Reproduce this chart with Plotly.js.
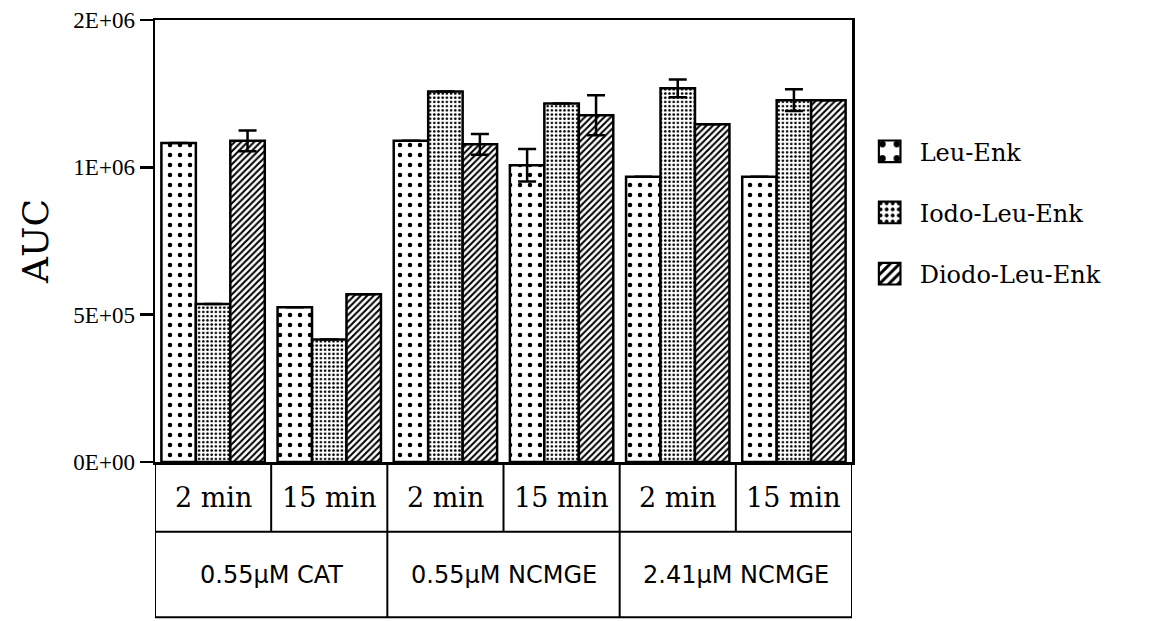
<!DOCTYPE html>
<html>
<head>
<meta charset="utf-8">
<script src="https://cdn.plot.ly/plotly-3.0.1.min.js"></script>
<style>html,body{margin:0;padding:0;background:#fff;}#chart{width:1154px;height:621px;}</style>
</head>
<body>
<div id="chart"></div>
<script>
// ---- data ----
var times = ["2 min", "15 min", "2 min", "15 min", "2 min", "15 min"];
var conditions = ["0.55\u00b5M CAT", "0.55\u00b5M CAT", "0.55\u00b5M NCMGE", "0.55\u00b5M NCMGE", "2.41\u00b5M NCMGE", "2.41\u00b5M NCMGE"];
var groupLabels = ["0.55\u00b5M CAT", "0.55\u00b5M NCMGE", "2.41\u00b5M NCMGE"];
var seriesNames = ["Leu-Enk", "Iodo-Leu-Enk", "Diodo-Leu-Enk"];
var leuEnk   = [1083000, 525000, 1090000, 1007000, 968000, 968000];
var iodoLeuEnk  = [536000, 416000, 1257000, 1217000, 1268000, 1228000];
var diodoLeuEnk = [1090000, 569000, 1078000, 1177000, 1146000, 1228000];
var leuErr   = [null, null, null, 55000, null, null];
var iodoErr  = [null, null, null, null, 30000, 37000];
var diodoErr = [35000, null, 35000, 68000, null, null];
var yTickVals = [0, 500000, 1000000, 1500000];
var yTickText = ["0E+00", "5E+05", "1E+06", "2E+06"];

// unique category keys built from the label arrays
var cats = times.map(function (t, i) { return conditions[i] + " | " + t; });

var patterns = [
  {shape: ".", size: 10, solidity: 0.16, fgcolor: "#000", bgcolor: "#fff", fillmode: "replace"},
  {shape: ".", size: 4.2, solidity: 0.3, fgcolor: "#000", bgcolor: "#fff", fillmode: "replace"},
  {shape: "/", size: 4.6, solidity: 0.45, fgcolor: "#000", bgcolor: "#fff", fillmode: "replace"}
];
var values = [leuEnk, iodoLeuEnk, diodoLeuEnk];
var errs = [leuErr, iodoErr, diodoErr];

var traces = values.map(function (v, k) {
  return {
    type: "bar",
    name: seriesNames[k],
    legendgroup: "g" + k,
    x: cats,
    y: v,
    marker: {color: "#fff", pattern: patterns[k], line: {color: "#000", width: 2.5}},
    error_y: {type: "data", array: errs[k], visible: true, color: "#000", thickness: 2.5, width: 9},
    hoverinfo: "skip"
  };
});

// ---- table below axis (layout decorations) ----
var rowMid = -0.158, rowBot = -0.351;
var lineStyle = {color: "#000", width: 2};
var shapes = [];
var n = cats.length;
shapes.push({type: "line", xref: "x", yref: "paper", x0: -0.5, x1: -0.5, y0: 0, y1: rowBot, line: lineStyle});
shapes.push({type: "line", xref: "x", yref: "paper", x0: n - 0.5, x1: n - 0.5, y0: 0, y1: rowBot, line: lineStyle});
shapes.push({type: "line", xref: "x", yref: "paper", x0: -0.5, x1: n - 0.5, y0: rowMid, y1: rowMid, line: lineStyle});
shapes.push({type: "line", xref: "x", yref: "paper", x0: -0.5, x1: n - 0.5, y0: rowBot, y1: rowBot, line: lineStyle});
for (var i = 1; i < n; i++) {
  var full = conditions[i] !== conditions[i - 1];
  shapes.push({type: "line", xref: "x", yref: "paper", x0: i - 0.5, x1: i - 0.5, y0: 0, y1: full ? rowBot : rowMid, line: lineStyle});
}

var annotations = [];
times.forEach(function (t, i) {
  annotations.push({xref: "x", yref: "paper", x: cats[i], y: -0.08, text: t, showarrow: false,
    font: {family: "DejaVu Serif", size: 27, color: "#000"}, xanchor: "center", yanchor: "middle"});
});
groupLabels.forEach(function (g) {
  var idx = [];
  conditions.forEach(function (c, i) { if (c === g) idx.push(i); });
  var mid = (idx[0] + idx[idx.length - 1]) / 2;
  annotations.push({xref: "x", yref: "paper", x: mid, y: -0.256, text: g, showarrow: false,
    font: {family: "DejaVu Sans", size: 24, color: "#000"}, xanchor: "center", yanchor: "middle"});
});

var layout = {
  width: 1154, height: 621,
  margin: {l: 155, r: 302, t: 20, b: 159, pad: 0},
  paper_bgcolor: "#fff", plot_bgcolor: "#fff",
  barmode: "group", bargap: 0.11, bargroupgap: 0,
  showlegend: true,
  legend: {x: 1.011, y: 0.753, xanchor: "left", yanchor: "top", tracegroupgap: 27, itemwidth: 50,
    font: {family: "DejaVu Serif", size: 24, color: "#000"}, bgcolor: "rgba(0,0,0,0)"},
  xaxis: {type: "category", showticklabels: false, ticks: "", showline: true, mirror: true,
    linecolor: "#000", linewidth: 2.5, showgrid: false, zeroline: false, range: [-0.5, n - 0.5], fixedrange: true},
  yaxis: {range: [0, 1500000], tickvals: yTickVals, ticktext: yTickText, ticks: "outside", ticklen: 13,
    tickwidth: 2.5, tickcolor: "#000", showline: true, mirror: true, linecolor: "#000", linewidth: 2.5,
    showgrid: false, zeroline: false, fixedrange: true,
    tickfont: {family: "Liberation Serif", size: 23, color: "#000"},
    title: {text: "AUC", font: {family: "DejaVu Serif", size: 36, color: "#000"}, standoff: 14}},
  shapes: shapes,
  annotations: annotations,
  hovermode: false
};

Plotly.newPlot("chart", traces, layout, {displayModeBar: false, staticPlot: true}).then(function () {
  document.querySelectorAll(".legendpoints path").forEach(function (p) {
    var t = p.getAttribute("transform") || "";
    p.setAttribute("transform", t + " scale(1.8)");
    p.style.strokeWidth = "1.2px";
  });
});
</script>
</body>
</html>
